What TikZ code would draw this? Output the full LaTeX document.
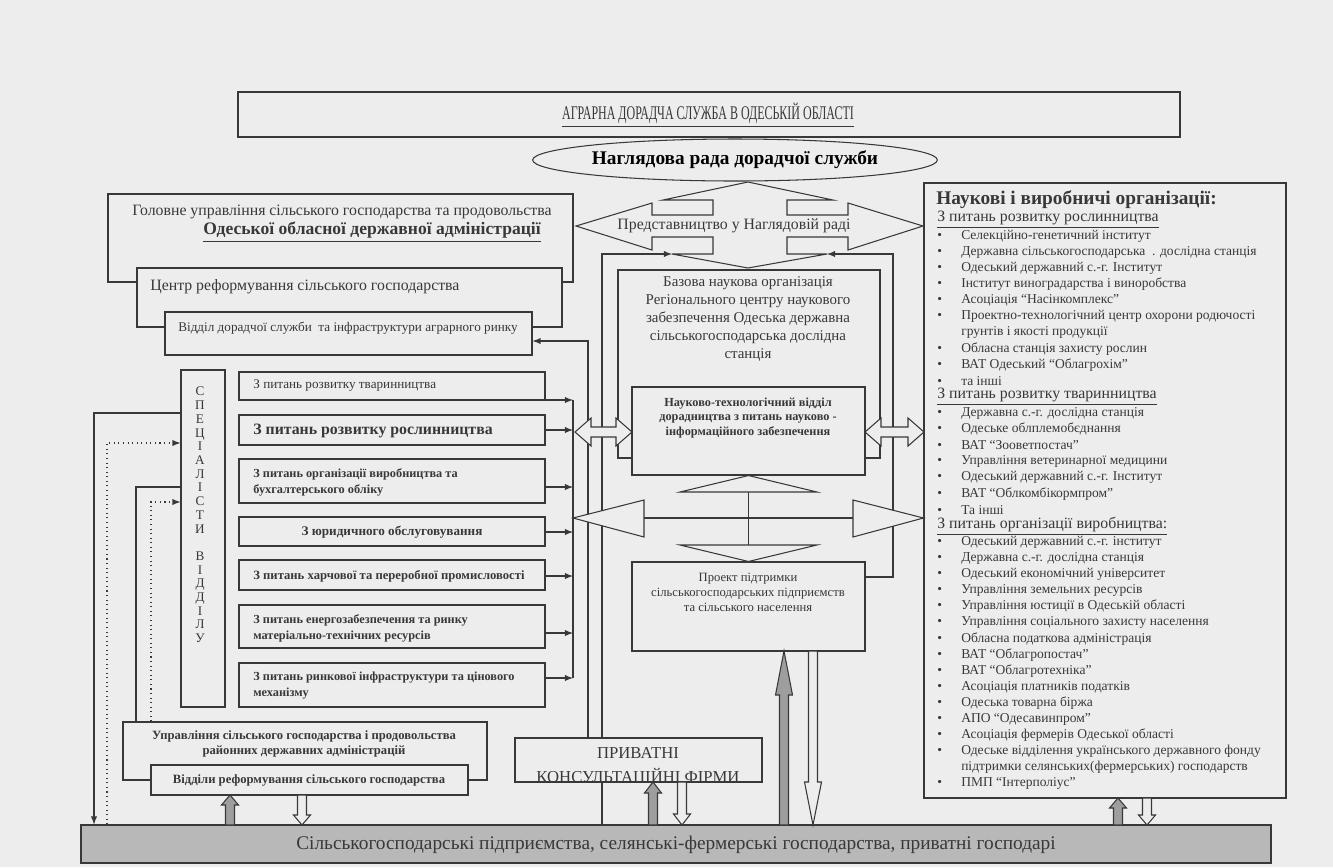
\documentclass[tikz,border=0pt]{standalone}
\usepackage{fontspec}
\setmainfont{Liberation Serif}
\usepackage{tikz}
\usetikzlibrary{arrows, positioning, calc, fit, shapes.geometric}

\definecolor{paper}{gray}{0.93}
\definecolor{ink}{gray}{0.22}
\definecolor{band}{gray}{0.72}
\definecolor{darrow}{gray}{0.62}

\pgfdeclarelayer{back}
\pgfdeclarelayer{lines}
\pgfsetlayers{back,lines,main}

\newcommand{\fsz}[2]{\fontsize{#1}{#2}\selectfont}
\newcommand{\subh}[1]{{\fsz{9}{10}\underline{#1}}}
\newcommand{\bul}[1]{{\fsz{7.7}{9}\makebox[13.6pt][l]{\textbullet}#1}}
\newcommand{\contline}[1]{{\fsz{7.7}{9}\hspace*{13.6pt}#1}}
% block arrow: x, tail y, head base y, tip y
\newcommand{\blockarr}[5][hollow]{\draw[#1] (#2-4.5,#3) -- (#2-4.5,#4) -- (#2-8.5,#4) -- (#2,#5) -- (#2+8.5,#4) -- (#2+4.5,#4) -- (#2+4.5,#3) -- cycle;}
% double block arrow: x1, x2, y
\newcommand{\dblarr}[3]{\draw[hollow] (#1,#3) -- (#1+16,#3-14) -- (#1+16,#3-5) -- (#2-16,#3-5) -- (#2-16,#3-14) -- (#2,#3) -- (#2-16,#3+14) -- (#2-16,#3+5) -- (#1+16,#3+5) -- (#1+16,#3+14) -- cycle;}

\begin{document}
\begin{tikzpicture}[x=0.02cm, y=-0.02cm,
  box/.style={draw=ink, fill=paper, line width=0.6pt, inner sep=0pt},
  lbl/.style={inner sep=0pt, text=ink},
  link/.style={draw=ink, line width=0.6pt},
  dots/.style={link, dotted},
  hollow/.style={draw=ink, line width=0.6pt, fill=paper},
  shade/.style={draw=ink, line width=0.6pt, fill=darrow}]

  \begin{pgfonlayer}{back}
    \fill[paper] (0,0) rectangle (1333,867);
  \end{pgfonlayer}

  % top
  \node[box, line width=1pt, fit={(238,92) (1180,137)}] (title) {};
  \node[lbl, font=\fsz{11}{13}] (title-t) at (708,115) {\scalebox{0.62}[1]{\underline{АГРАРНА ДОРАДЧА СЛУЖБА В ОДЕСЬКІЙ ОБЛАСТІ}}};
  \node[box, ellipse, minimum width=8.08cm, minimum height=0.84cm, font=\fsz{11}{13}\bfseries] (rada) at (735,160) {Наглядова рада дорадчої служби};

  % four-way arrow under the council
  \draw[hollow] (748,182) -- (833,200) -- (787,200) -- (787,215) -- (848,215) -- (848,203) -- (923,226) -- (848,250) -- (848,237) -- (787,237) -- (787,254) -- (827,254) -- (748,268) -- (672,254) -- (713,254) -- (713,237) -- (652,237) -- (652,250) -- (576,226) -- (652,203) -- (652,215) -- (713,215) -- (713,200) -- (663,200) -- cycle;
  \coordinate (cross-dl) at (672,254);
  \coordinate (cross-dr) at (827,254);
  \node[lbl, font=\fsz{9}{11}] (predst) at (734,226) {Представництво у Наглядовій раді};

  % oblast administration
  \node[box, fit={(108,194) (573,282)}] (golov) {};
  \node[lbl, font=\fsz{9}{11}] (golov-a) at (342,212) {Головне управління сільського господарства та продовольства};
  \node[lbl, font=\fsz{10}{12}\bfseries] (golov-b) at (372,232) {\underline{Одеської обласної державної адміністрації}};
  \node[box, fit={(137,268) (562,327)}] (centr) {};
  \node[lbl, font=\fsz{9}{11}, anchor=west] (centr-t) at (150,287) {Центр реформування сільського господарства};
  \node[box, fit={(165,312) (532,355)}] (viddil) {};
  \node[lbl, font=\fsz{7.5}{9}] (viddil-t) at (348,328) {Відділ дорадчої служби\ \ та інфраструктури аграрного ринку};

  % specialists
  \node[box, fit={(181,370) (225,707)}] (spec) {};
  \node[lbl, font=\fsz{7.5}{7.8}, align=center] (spec-t) at (200,515) {С\\П\\Е\\Ц\\І\\А\\Л\\І\\С\\Т\\И\\[7.8pt]В\\І\\Д\\Д\\І\\Л\\У};

  \node[box, fit={(239,372) (545,400)}] (tvar) {};
  \node[lbl, font=\fsz{7.5}{9}, anchor=west] (tvar-t) at (253,386) {З питань розвитку тваринництва};
  \node[box, fit={(239,415) (545,445)}] (rosl) {};
  \node[lbl, font=\fsz{9}{11}\bfseries, anchor=west] (rosl-t) at (253,431) {З питань розвитку рослинництва};
  \node[box, fit={(239,459) (545,503)}] (vyrob) {};
  \node[lbl, font=\fsz{7}{9.1}\bfseries, anchor=west, align=left] (vyrob-t) at (253,482) {З питань організації виробництва та\\бухгалтерського обліку};
  \node[box, fit={(239,517) (545,546)}] (yur) {};
  \node[lbl, font=\fsz{7.5}{9}\bfseries] (yur-t) at (392,532) {З юридичного обслуговування};
  \node[box, fit={(239,560) (545,590)}] (harch) {};
  \node[lbl, font=\fsz{7.2}{9}\bfseries, anchor=west] (harch-t) at (253,576) {З питань харчової та переробної промисловості};
  \node[box, fit={(239,605) (545,648)}] (energ) {};
  \node[lbl, font=\fsz{7}{9.1}\bfseries, anchor=west, align=left] (energ-t) at (253,628) {З питань енергозабезпечення та ринку\\матеріально-технічних ресурсів};
  \node[box, fit={(239,663) (545,707)}] (rynk) {};
  \node[lbl, font=\fsz{7}{9.1}\bfseries, anchor=west, align=left] (rynk-t) at (253,686) {З питань ринкової інфраструктури та цінового\\механізму};

  % district level
  \node[box, fit={(123,722) (487,780)}] (uprav) {};
  \node[lbl, font=\fsz{7.2}{8.5}\bfseries, align=center] (uprav-t) at (304,744) {Управління сільського господарства і продовольства\\районних державних адміністрацій};
  \node[box, fit={(151,765) (468,795)}] (viddily) {};
  \node[lbl, font=\fsz{7.2}{8.5}\bfseries] (viddily-t) at (309,780) {Відділи реформування сільського господарства};

  % private consultants
  \node[box, fit={(515,738) (762,782)}] (pryv) {};
  \begin{scope}
    \clip (515,738) rectangle (762,781);
    \node[lbl, font=\fsz{9.5}{11}] (pryv-a) at (638,753) {ПРИВАТНІ};
    \node[lbl, font=\fsz{9.5}{11}] (pryv-b) at (638,777) {КОНСУЛЬТАЦІЙНІ ФІРМИ};
  \end{scope}

  % base organisation
  \node[box, fit={(618,270) (880,458)}] (bazova) {};
  \node[lbl, font=\fsz{8.5}{10.2}, align=center] (bazova-t) at (748,319) {Базова наукова організація\\Регіонального центру наукового\\забезпечення Одеська державна\\сільськогосподарська дослідна\\станція};
  \node[box, fit={(632,387) (865,475)}] (naukovo) {};
  \node[lbl, font=\fsz{7}{8.5}\bfseries, align=center] (naukovo-t) at (748,418) {Науково-технологічний відділ\\дорадництва з питань науково -\\інформаційного забезпечення};
  \node[box, fit={(632,562) (865,651)}] (proekt) {};
  \node[lbl, font=\fsz{7.2}{8.5}, align=center] (proekt-t) at (748,592) {Проект підтримки\\сільськогосподарських підприємств\\та сільського населення};

  \dblarr{575}{632}{432}
  \dblarr{865}{924}{432}

  % scientific organisations
  \node[box, fit={(924,183) (1286,798)}] (orgs) {};
  \node[lbl, font=\fsz{11}{13}\bfseries, anchor=west] (orgs-h) at (936,200) {Наукові і виробничі організації:};
  \foreach \t [count=\i from 0] in {
    {\subh{З питань розвитку рослинництва}},
    {\bul{Селекційно-генетичний інститут}},
    {\bul{Державна сільськогосподарська\ \ . дослідна станція}},
    {\bul{Одеський державний с.-г. Інститут}},
    {\bul{Інститут виноградарства і виноробства}},
    {\bul{Асоціація “Насінкомплекс”}},
    {\bul{Проектно-технологічний центр охорони родючості}},
    {\contline{грунтів і якості продукції}},
    {\bul{Обласна станція захисту рослин}},
    {\bul{ВАТ Одеський “Облагрохім”}},
    {\bul{та інші}},
    {\subh{З питань розвитку тваринництва}},
    {\bul{Державна с.-г. дослідна станція}},
    {\bul{Одеське облплемобєднання}},
    {\bul{ВАТ\ “Зооветпостач”}},
    {\bul{Управління ветеринарної медицини}},
    {\bul{Одеський державний с.-г. Інститут}},
    {\bul{ВАТ “Облкомбікормпром”}},
    {\bul{Та інші}},
    {\subh{З питань організації виробництва:}},
    {\bul{Одеський державний с.-г. інститут}},
    {\bul{Державна с.-г. дослідна станція}},
    {\bul{Одеський економічний університет}},
    {\bul{Управління земельних ресурсів}},
    {\bul{Управління юстиції в Одеській області}},
    {\bul{Управління соціального захисту населення}},
    {\bul{Обласна податкова адміністрація}},
    {\bul{ВАТ “Облагропостач”}},
    {\bul{ВАТ “Облагротехніка”}},
    {\bul{Асоціація платників податків}},
    {\bul{Одеська товарна біржа}},
    {\bul{АПО “Одесавинпром”}},
    {\bul{Асоціація фермерів Одеської області}},
    {\bul{Одеське відділення українського державного фонду}},
    {\contline{підтримки селянських(фермерських) господарств}},
    {\bul{ПМП “Інтерполіус”}}}
    \node[lbl, anchor=west] (item\i) at (937,{220+16.1*\i}) {\t};

  % farms
  \node[box, fill=band, fit={(81,825) (1271,863)}] (bar) {};
  \node[lbl, font=\fsz{11}{13}] (bar-t) at (676,845) {Сільськогосподарські підприємства, селянські-фермерські господарства, приватні господарі};

  % central crossing between the departments
  \begin{pgfonlayer}{lines}
    \draw[link] (naukovo.south) -- (proekt.north);
    \draw[link] (573,518) -- (orgs.west |- 0,518);
  \end{pgfonlayer}
  \draw[hollow] (naukovo.south) -- (817,492) -- (680,492) -- cycle;
  \draw[hollow] (680,545) -- (817,545) -- (proekt.north) -- cycle;
  \draw[hollow] (573,518) -- (644,500) -- (644,537) -- cycle;
  \draw[hollow] (orgs.west |- 0,518) -- (853,500) -- (853,537) -- cycle;

  % connectors
  \begin{pgfonlayer}{lines}
    \foreach \b/\y in {tvar/400, rosl/430, vyrob/487, yur/532, harch/576, energ/633, rynk/678}
      \draw[link, -latex] (\b.east |- 0,\y) -- (573,\y);
    \draw[link] (573,400) -- (573,678);
    \draw[link, -latex] (pryv.north -| 588,0) -- (588,341) -- (viddil.east |- 0,341);
    \draw[link, -latex] (602,0 |- bar.north) -- (602,254) -- (cross-dl);
    \draw[link, -latex] (proekt.east |- 0,577) -- (893,577) -- (893,254) -- (cross-dr);
    \draw[link, -latex] (spec.west |- 0,413) -- (94,413) -- (94,0 |- bar.north);
    \draw[dots, -latex] (107,0 |- bar.north) -- (107,443) -- (spec.west |- 0,443);
    \draw[link, -latex] (spec.west |- 0,487) -- (136,487) -- (136,733);
    \draw[dots, -latex] (151,0 |- uprav.north) -- (151,502) -- (spec.west |- 0,502);
  \end{pgfonlayer}

  % links to the farms
  \blockarr[shade]{230}{825}{805}{795}
  \blockarr{302}{795}{815}{825}
  \blockarr[shade]{653}{825}{793}{782}
  \blockarr{682}{782}{814}{825}
  \blockarr[shade]{784}{825}{695}{651}
  \blockarr{813}{651}{782}{825}
  \blockarr[shade]{1118}{825}{808}{798}
  \blockarr{1147}{798}{815}{825}

\end{tikzpicture}
\end{document}
